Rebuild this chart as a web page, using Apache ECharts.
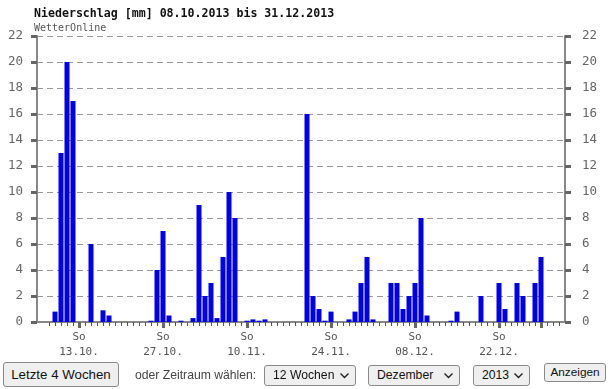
<!DOCTYPE html>
<html><head><meta charset="utf-8">
<script src="https://cdn.jsdelivr.net/npm/echarts@6/dist/echarts.min.js"></script>
<style>
html,body{margin:0;padding:0;background:#fff;}
#chart{position:absolute;left:0;top:0;width:615px;height:389px;}
.ctl{position:absolute;font-family:Arial,"Liberation Sans",sans-serif;box-sizing:border-box;white-space:nowrap;}
.btn{background:#efefef;border:1px solid #8a8a8a;border-radius:3px;color:#111;text-align:center;}
.sel{background:#efefef;border:1px solid #8a8a8a;border-radius:3px;color:#111;font-size:12.2px;line-height:19px;padding-left:8px;}
.sel svg{position:absolute;right:6px;top:7px;}
</style></head>
<body>
<div id="chart"></div>
<div class="ctl btn" style="left:3px;top:362px;width:116px;height:25px;font-size:13.3px;line-height:23px;">Letzte 4 Wochen</div>
<div class="ctl" style="left:135px;top:368px;font-size:12.2px;color:#444;">oder Zeitraum wählen:</div>
<div class="ctl sel" style="left:264px;top:365px;width:92px;height:21px;">12 Wochen<svg width="9" height="6"><polyline points="0.5,0.5 4.5,4.5 8.5,0.5" fill="none" stroke="#222" stroke-width="1.4"/></svg></div>
<div class="ctl sel" style="left:368px;top:365px;width:92px;height:21px;">Dezember<svg width="9" height="6"><polyline points="0.5,0.5 4.5,4.5 8.5,0.5" fill="none" stroke="#222" stroke-width="1.4"/></svg></div>
<div class="ctl sel" style="left:473px;top:365px;width:57px;height:21px;">2013<svg width="9" height="6"><polyline points="0.5,0.5 4.5,4.5 8.5,0.5" fill="none" stroke="#222" stroke-width="1.4"/></svg></div>
<div class="ctl btn" style="left:544px;top:363px;width:62px;height:19px;font-size:11.8px;line-height:16px;">Anzeigen</div>
<script>
// Days 08.10.2013 .. 31.12.2013
const days = [
 '08.10.','09.10.','10.10.','11.10.','12.10.','13.10.','14.10.','15.10.','16.10.','17.10.',
 '18.10.','19.10.','20.10.','21.10.','22.10.','23.10.','24.10.','25.10.','26.10.','27.10.',
 '28.10.','29.10.','30.10.','31.10.','01.11.','02.11.','03.11.','04.11.','05.11.','06.11.',
 '07.11.','08.11.','09.11.','10.11.','11.11.','12.11.','13.11.','14.11.','15.11.','16.11.',
 '17.11.','18.11.','19.11.','20.11.','21.11.','22.11.','23.11.','24.11.','25.11.','26.11.',
 '27.11.','28.11.','29.11.','30.11.','01.12.','02.12.','03.12.','04.12.','05.12.','06.12.',
 '07.12.','08.12.','09.12.','10.12.','11.12.','12.12.','13.12.','14.12.','15.12.','16.12.',
 '17.12.','18.12.','19.12.','20.12.','21.12.','22.12.','23.12.','24.12.','25.12.','26.12.',
 '27.12.','28.12.','29.12.','30.12.','31.12.'
];
const precip = [
 0,0.8,13,20,17,0,0,6,0,0.9,
 0.5,0,0,0,0,0,0,0.1,4,7,
 0.5,0,0.1,0,0.3,9,2,3,0.3,5,
 10,8,0,0.1,0.2,0.1,0.2,0,0,0,
 0,0,0,16,2,1,0.1,0.8,0,0,
 0.2,0.8,3,5,0.2,0,0,3,3,1,
 2,3,8,0.5,0,0,0,0.1,0.8,0,
 0,0,2,0,0,3,1,0,3,2,
 0,3,5,0,0
];
const sundays = ['13.10.','27.10.','10.11.','24.11.','08.12.','22.12.','29.12.'];
const labelledSundays = ['13.10.','27.10.','10.11.','24.11.','08.12.','22.12.'];
const padBefore = ['p1','p2'];
const padAfter = ['a1','a2'];
const yTicks = {min:0, max:22, interval:2};

const cats = padBefore.concat(days, padAfter);
const vals = padBefore.map(()=>null).concat(precip, padAfter.map(()=>null));
const isDay = v => days.indexOf(v) >= 0;
const mono = '"DejaVu Sans Mono", monospace';

const chart = echarts.init(document.getElementById('chart'));
chart.setOption({
  animation:false,
  title:{text:'Niederschlag [mm] 08.10.2013 bis 31.12.2013', subtext:'WetterOnline',
    left:29, top:3, itemGap:3,
    textStyle:{fontFamily:mono,fontSize:11.6,fontWeight:'bold',color:'#111'},
    subtextStyle:{fontFamily:mono,fontSize:10,color:'#555'}},
  grid:{left:37,right:50,top:36,bottom:67},
  xAxis:[
   {type:'category',data:cats,boundaryGap:false,position:'bottom',
    axisLine:{lineStyle:{color:'#888',width:2}},
    axisTick:{show:true,length:4,inside:false,interval:(i,v)=>isDay(v)||v==='a1',lineStyle:{color:'#555',width:1}},
    axisLabel:{show:false},splitLine:{show:false}},
   {type:'category',data:cats,boundaryGap:false,position:'bottom',
    axisLine:{show:false},
    axisTick:{show:true,length:6,interval:(i,v)=>sundays.indexOf(v)>=0,lineStyle:{color:'#666',width:3}},
    axisLabel:{show:true,interval:(i,v)=>labelledSundays.indexOf(v)>=0,formatter:v=>'So\n'+v,
      fontFamily:mono,fontSize:11,color:'#555',lineHeight:15,margin:8},
    splitLine:{show:false}}
  ],
  yAxis:[
   {type:'value',min:yTicks.min,max:yTicks.max,interval:yTicks.interval,position:'left',
    axisLine:{show:true,lineStyle:{color:'#888',width:2}},
    axisTick:{show:true,length:6,lineStyle:{color:'#666',width:3}},
    axisLabel:{fontFamily:mono,fontSize:12.5,color:'#666',margin:14},
    splitLine:{show:true,lineStyle:{color:'#999',type:[6,4],width:1}}},
   {type:'value',min:yTicks.min,max:yTicks.max,interval:yTicks.interval,position:'right',
    axisLine:{show:true,lineStyle:{color:'#888',width:2}},
    axisTick:{show:true,length:6,lineStyle:{color:'#666',width:3}},
    axisLabel:{fontFamily:mono,fontSize:12.5,color:'#666',margin:17},
    splitLine:{show:false}}
  ],
  series:[{type:'bar',data:vals,xAxisIndex:0,yAxisIndex:0,barWidth:5,
    itemStyle:{color:'#0000ee'}}]
});
</script>
</body></html>
